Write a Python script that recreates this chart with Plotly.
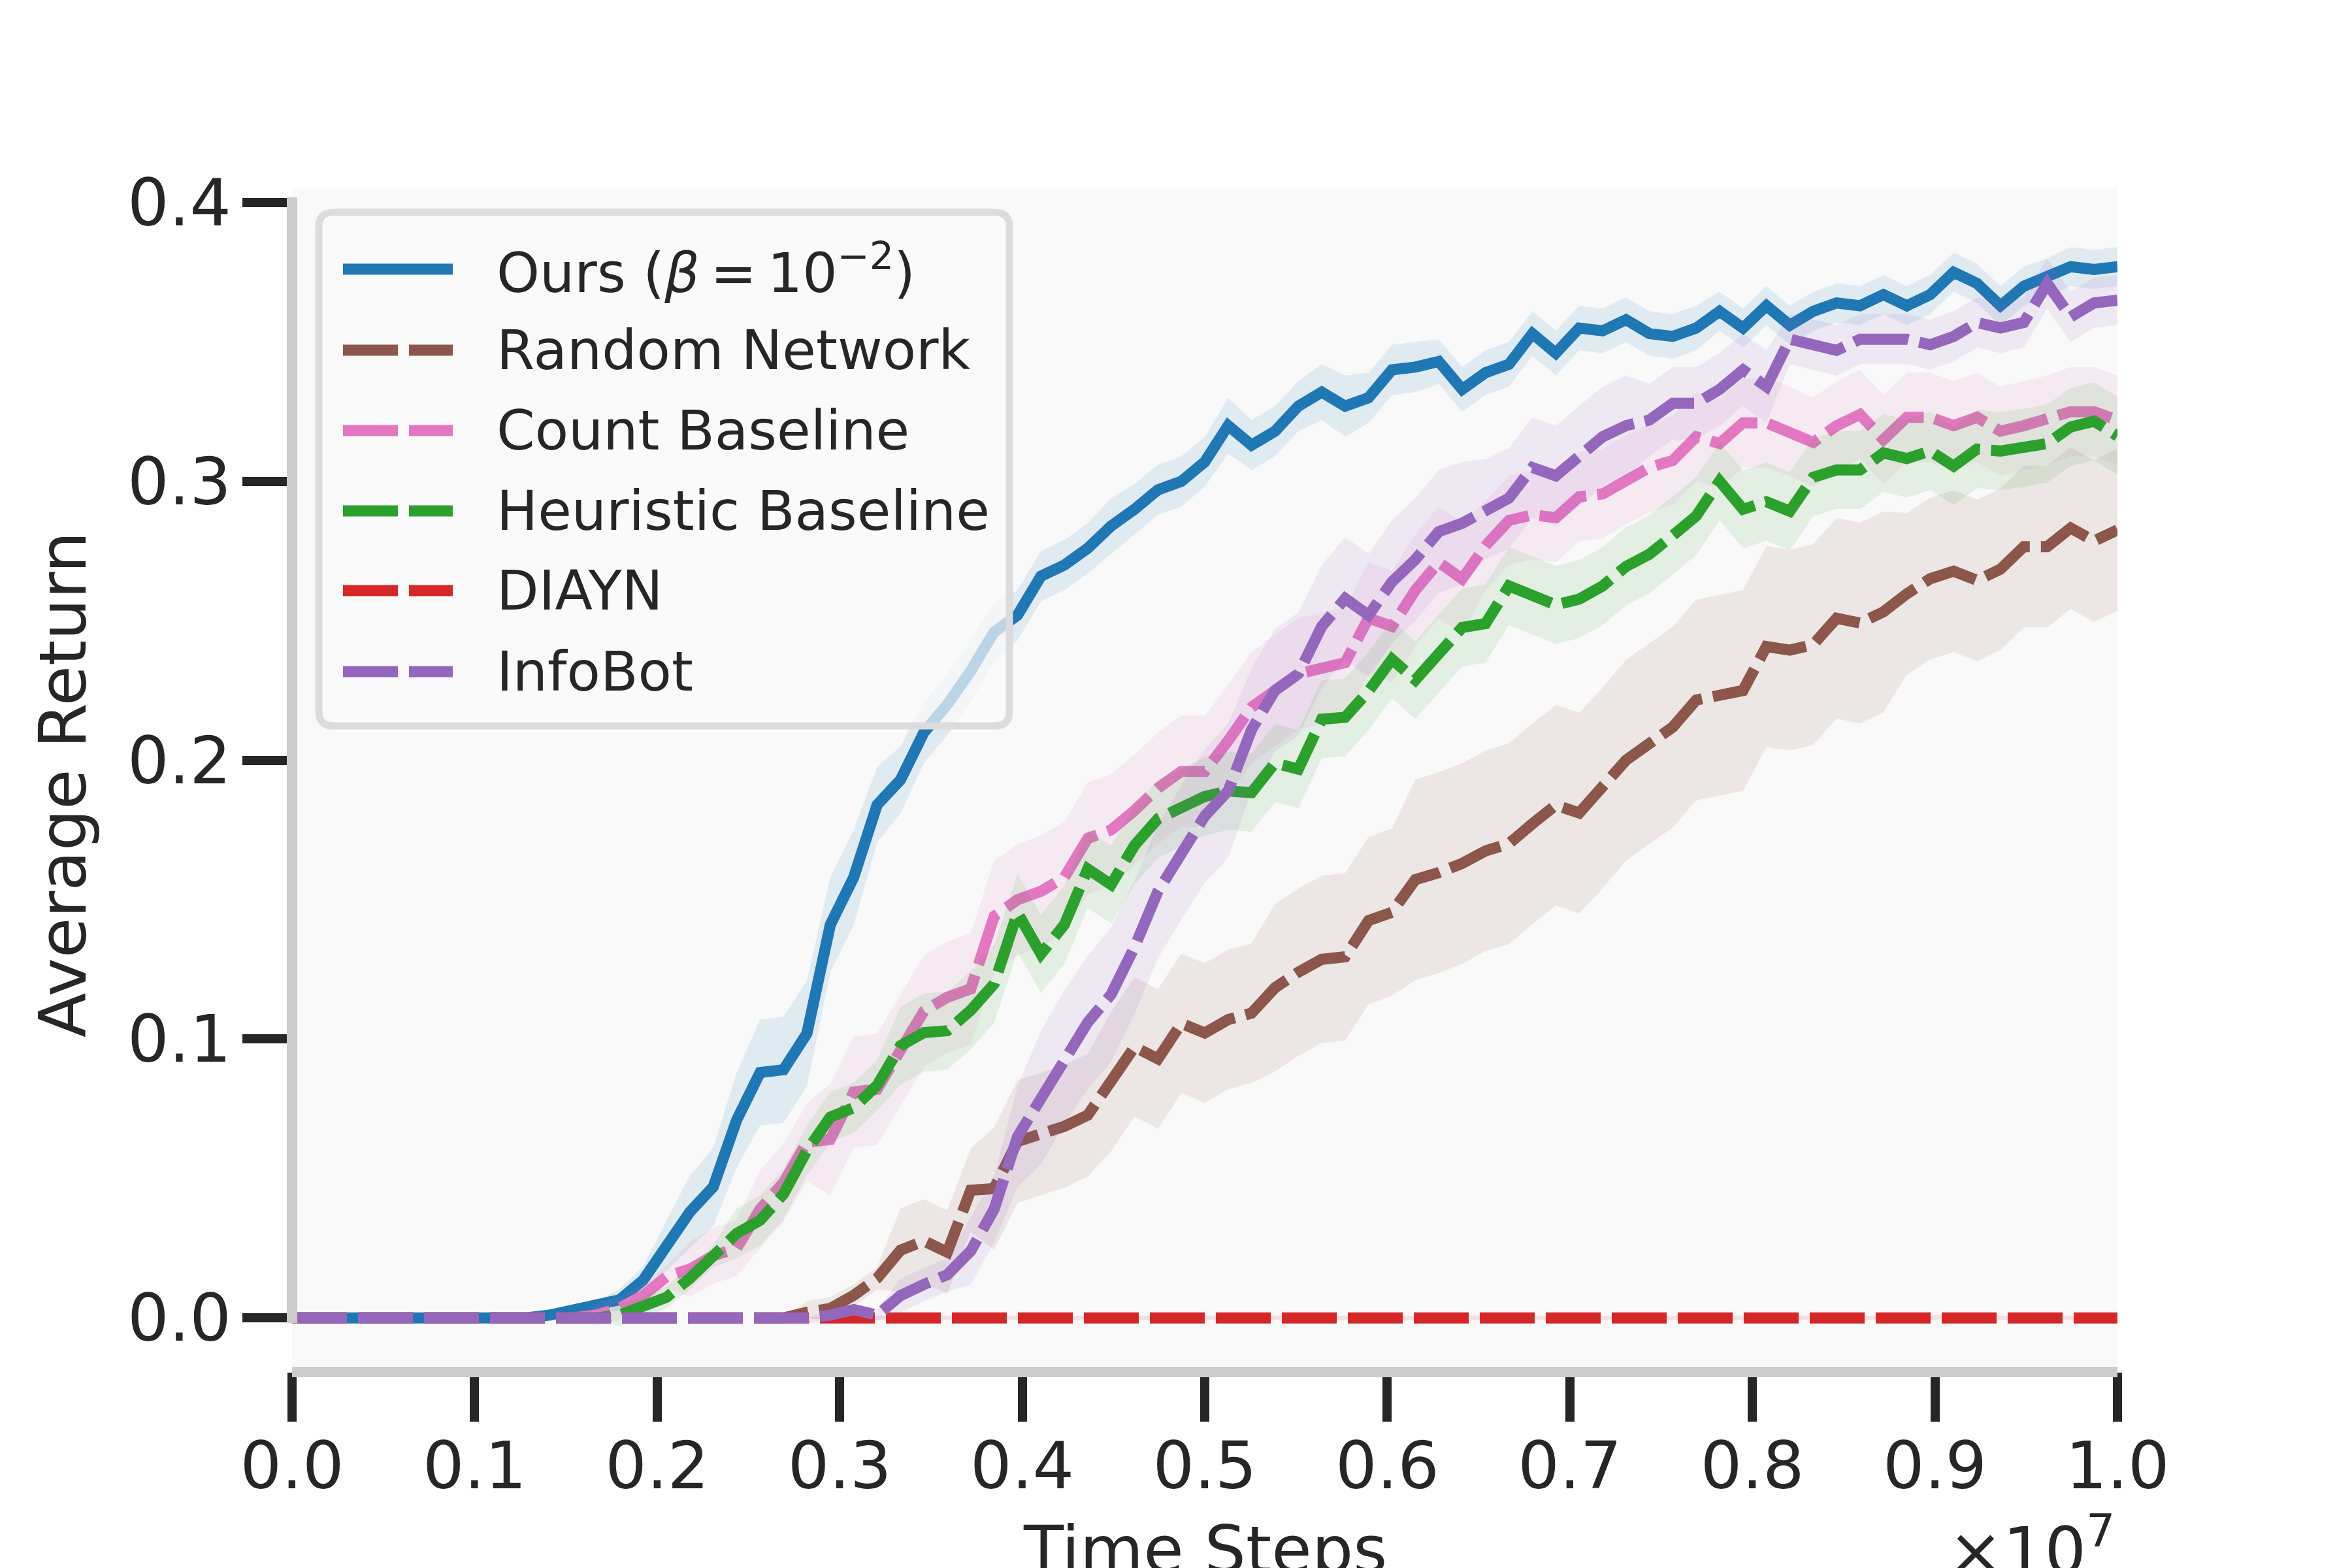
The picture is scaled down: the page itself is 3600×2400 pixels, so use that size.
import numpy as np
import plotly.graph_objects as go

# ---------------- data ----------------
time_steps = np.linspace(0, 1.0e7, 79)

series_names = ["Ours (<i>β</i>\u2009=\u200910<sup>−2</sup>)", "Random Network", "Count Baseline",
                "Heuristic Baseline", "DIAYN", "InfoBot"]
series_colors = ["#1f77b4", "#8c564b", "#e377c2", "#2ca02c", "#d62728", "#9467bd"]
series_dashes = ["solid", "84px,17px", "84px,17px", "84px,17px", "84px,17px", "84px,17px"]

ours_mean = [0, 0, 0, 0, 0, 0, 0, 0, 0, 0, 0,
             0.001, 0.0025, 0.004, 0.0065, 0.0135, 0.026, 0.038, 0.047, 0.071, 0.088,
             0.089, 0.102, 0.141, 0.158, 0.184, 0.193, 0.210, 0.220, 0.232, 0.246,
             0.252, 0.266, 0.270, 0.276, 0.284, 0.290, 0.297, 0.300, 0.307, 0.320,
             0.313, 0.318, 0.327, 0.332, 0.327, 0.330, 0.340, 0.341, 0.343, 0.333,
             0.339, 0.342, 0.353, 0.346, 0.355, 0.354, 0.358, 0.353, 0.352, 0.355,
             0.361, 0.355, 0.363, 0.356, 0.361, 0.364, 0.363, 0.367, 0.363, 0.367,
             0.375, 0.371, 0.363, 0.370, 0.373, 0.377, 0.376, 0.377]
ours_err = [0, 0, 0, 0, 0, 0, 0, 0, 0, 0, 0,
            0.002, 0.002, 0.002, 0.004, 0.005, 0.009, 0.013, 0.014, 0.017, 0.019,
            0.019, 0.019, 0.017, 0.017, 0.0135, 0.012, 0.011, 0.011, 0.011, 0.011,
            0.009, 0.009, 0.009, 0.009, 0.010, 0.009, 0.009, 0.009, 0.009, 0.010,
            0.009, 0.009, 0.009, 0.010, 0.011, 0.009, 0.009, 0.009, 0.008, 0.008,
            0.008, 0.008, 0.008, 0.008, 0.008, 0.008, 0.008, 0.008, 0.008, 0.008,
            0.007, 0.007, 0.007, 0.007, 0.007, 0.007, 0.007, 0.007, 0.007, 0.007,
            0.007, 0.007, 0.007, 0.007, 0.007, 0.007, 0.007, 0.007]

random_mean = [0, 0, 0, 0, 0, 0, 0, 0, 0, 0, 0, 0, 0, 0, 0, 0, 0, 0, 0, 0, 0, 0,
               0.002, 0.0034, 0.0081, 0.0142, 0.0243, 0.0276, 0.0236, 0.0458, 0.0464,
               0.0633, 0.066, 0.0687, 0.0727, 0.0848, 0.0972, 0.0929, 0.1056, 0.1022, 0.107,
               0.1093, 0.1184, 0.124, 0.1286, 0.1295, 0.1425, 0.1455, 0.1572, 0.1597, 0.163,
               0.1675, 0.1701, 0.1772, 0.1839, 0.1811, 0.19, 0.2, 0.206, 0.2119, 0.2216,
               0.2233, 0.225, 0.2408, 0.2395, 0.2415, 0.2509, 0.2492, 0.2532, 0.2597, 0.2651,
               0.2678, 0.2645, 0.2685, 0.2766, 0.2766, 0.2833, 0.2786, 0.2826]
random_err = [0, 0, 0, 0, 0, 0, 0, 0, 0, 0, 0, 0, 0, 0, 0, 0, 0, 0, 0, 0, 0, 0,
              0.004, 0.004, 0.004, 0.004, 0.015, 0.015, 0.015, 0.015, 0.022,
              0.022, 0.022, 0.022, 0.022, 0.025, 0.025, 0.025, 0.025, 0.025, 0.025,
              0.025, 0.030, 0.030, 0.030, 0.030, 0.030, 0.030, 0.036, 0.036, 0.036,
              0.036, 0.036, 0.036, 0.036, 0.036, 0.036, 0.036, 0.036, 0.036, 0.036,
              0.036, 0.036, 0.036, 0.036, 0.036, 0.036, 0.036, 0.036, 0.029, 0.029,
              0.029, 0.029, 0.029, 0.029, 0.029, 0.029, 0.029, 0.029]

count_mean = [0, 0, 0, 0, 0, 0, 0, 0, 0, 0, 0, 0, 0,
              0.001, 0.0035, 0.008, 0.0148, 0.0175, 0.0223, 0.025, 0.039,
              0.0485, 0.063, 0.064, 0.081, 0.082, 0.096, 0.11, 0.115, 0.118, 0.144,
              0.15, 0.153, 0.158, 0.172, 0.175, 0.182, 0.19, 0.196, 0.196, 0.207,
              0.219, 0.225, 0.231, 0.233, 0.235, 0.251, 0.248, 0.261, 0.271, 0.265,
              0.277, 0.286, 0.288, 0.287, 0.2945, 0.2955, 0.3005, 0.305, 0.3075, 0.316,
              0.3136, 0.321, 0.321, 0.318, 0.314, 0.32, 0.324, 0.315, 0.323, 0.323,
              0.32, 0.323, 0.318, 0.32, 0.322, 0.325, 0.325, 0.322]
count_err = [0, 0, 0, 0, 0, 0, 0, 0, 0, 0, 0, 0, 0,
             0.004, 0.004, 0.004, 0.004, 0.010, 0.010, 0.010, 0.014,
             0.014, 0.014, 0.020, 0.020, 0.020, 0.020, 0.020, 0.020, 0.020, 0.020,
             0.020, 0.020, 0.020, 0.020, 0.020, 0.020, 0.020, 0.020, 0.020, 0.020,
             0.020, 0.020, 0.020, 0.020, 0.020, 0.020, 0.020, 0.020, 0.020, 0.020,
             0.016, 0.016, 0.016, 0.016, 0.016, 0.016, 0.016, 0.016, 0.016, 0.016,
             0.016, 0.016, 0.016, 0.016, 0.016, 0.016, 0.016, 0.016, 0.016, 0.016,
             0.016, 0.016, 0.016, 0.016, 0.016, 0.016, 0.016, 0.016]

heuristic_mean = [0, 0, 0, 0, 0, 0, 0, 0, 0, 0, 0, 0, 0, 0,
                  0.001, 0.0038, 0.0074, 0.0142, 0.0222, 0.0303, 0.035,
                  0.0444, 0.06, 0.072, 0.0754, 0.0834, 0.0976, 0.1023, 0.103, 0.1103, 0.1198,
                  0.1453, 0.1305, 0.141, 0.161, 0.1554, 0.1695, 0.179, 0.183, 0.187, 0.189,
                  0.1884, 0.199, 0.1968, 0.2147, 0.2154, 0.2248, 0.2362, 0.2288, 0.2382, 0.2476,
                  0.249, 0.2625, 0.2591, 0.2557, 0.2578, 0.2625, 0.2695, 0.2739, 0.2806, 0.2876,
                  0.3001, 0.29, 0.2927, 0.2893, 0.3015, 0.3041, 0.3041, 0.3102, 0.3082, 0.3109,
                  0.3055, 0.3116, 0.3109, 0.312, 0.3136, 0.3195, 0.3216, 0.3163]
heuristic_err = [0, 0, 0, 0, 0, 0, 0, 0, 0, 0, 0, 0, 0, 0,
                 0.004, 0.004, 0.004, 0.004, 0.004, 0.009, 0.009,
                 0.009, 0.009, 0.009, 0.009, 0.009, 0.014, 0.014, 0.014, 0.014, 0.014,
                 0.014, 0.014, 0.014, 0.014, 0.014, 0.014, 0.014, 0.014, 0.014, 0.014,
                 0.014, 0.014, 0.014, 0.014, 0.014, 0.014, 0.014, 0.014, 0.014, 0.014,
                 0.014, 0.014, 0.014, 0.014, 0.014, 0.014, 0.014, 0.014, 0.014, 0.014,
                 0.014, 0.014, 0.014, 0.014, 0.014, 0.014, 0.014, 0.014, 0.014, 0.014,
                 0.014, 0.014, 0.014, 0.014, 0.014, 0.014, 0.014, 0.014]

diayn_mean = [0, 0, 0, 0, 0, 0, 0, 0, 0, 0, 0, 0, 0, 0, 0, 0, 0, 0, 0, 0,
              0, 0, 0, 0, 0, 0, 0, 0, 0, 0, 0, 0, 0, 0, 0, 0, 0, 0, 0.0008, 0,
              0, 0, 0, 0, 0, 0, 0, 0, 0, 0, 0, 0, 0, 0, 0, 0, 0, 0, 0, 0,
              0.0006, 0, 0, 0, 0, 0, 0, 0, 0, 0, 0, 0.0008, 0, 0, 0, 0, 0, 0, 0]
diayn_err = [0, 0, 0, 0, 0, 0, 0, 0, 0, 0, 0, 0, 0, 0, 0, 0, 0, 0, 0, 0,
             0, 0, 0, 0.0008, 0.0008, 0.0008, 0.0008, 0.0008, 0.0008, 0.0008,
             0.0008, 0.0008, 0.0008, 0.0008, 0.0008, 0.0008, 0.0008, 0.0008, 0.0008, 0.0008,
             0.0008, 0.0008, 0.0008, 0.0008, 0.0008, 0.0008, 0.0008, 0.0008, 0.0008, 0.0008,
             0.0008, 0.0008, 0.0008, 0.0008, 0.0008, 0.0008, 0.0008, 0.0008, 0.0008, 0.0008,
             0.0008, 0.0008, 0.0008, 0.0008, 0.0008, 0.0008, 0.0008, 0.0008, 0.0008, 0.0008,
             0.0008, 0.0008, 0.0008, 0.0008, 0.0008, 0.0008, 0.0008, 0.0008, 0.0008]

infobot_mean = [0, 0, 0, 0, 0, 0, 0, 0, 0, 0, 0, 0, 0, 0, 0, 0, 0, 0, 0, 0, 0, 0, 0,
                0.001, 0.003, 0.001, 0.008, 0.012, 0.0155, 0.024, 0.039,
                0.065, 0.079, 0.0935, 0.106, 0.116, 0.133, 0.153, 0.167, 0.18, 0.189,
                0.211, 0.225, 0.231, 0.248, 0.258, 0.252, 0.264, 0.272, 0.282, 0.285,
                0.29, 0.294, 0.305, 0.302, 0.309, 0.316, 0.32, 0.322, 0.328, 0.328,
                0.333, 0.34, 0.334, 0.351, 0.349, 0.347, 0.351, 0.351, 0.351, 0.349,
                0.352, 0.357, 0.355, 0.357, 0.371, 0.359, 0.364, 0.365]
infobot_err = [0, 0, 0, 0, 0, 0, 0, 0, 0, 0, 0, 0, 0, 0, 0, 0, 0, 0, 0, 0, 0, 0, 0,
               0.002, 0.002, 0.002, 0.006, 0.006, 0.006, 0.012, 0.012,
               0.018, 0.024, 0.024, 0.024, 0.024, 0.024, 0.024, 0.024, 0.024, 0.024,
               0.022, 0.022, 0.022, 0.022, 0.022, 0.022, 0.022, 0.022, 0.022, 0.022,
               0.018, 0.018, 0.018, 0.018, 0.018, 0.018, 0.018, 0.013, 0.013, 0.013,
               0.013, 0.013, 0.013, 0.009, 0.009, 0.009, 0.009, 0.009, 0.009, 0.009,
               0.009, 0.009, 0.009, 0.009, 0.009, 0.009, 0.009, 0.009]

y_tick_vals = [0.0, 0.1, 0.2, 0.3, 0.4]
y_tick_text = ["0.0", "0.1", "0.2", "0.3", "0.4"]
x_tick_vals = [0, 1e6, 2e6, 3e6, 4e6, 5e6, 6e6, 7e6, 8e6, 9e6, 1e7]
x_tick_text = ["0.0", "0.1", "0.2", "0.3", "0.4", "0.5", "0.6", "0.7", "0.8", "0.9", "1.0"]

all_means = [ours_mean, random_mean, count_mean, heuristic_mean, diayn_mean, infobot_mean]
all_errs = [ours_err, random_err, count_err, heuristic_err, diayn_err, infobot_err]

# ---------------- layout geometry ----------------
W, H = 3600, 2400
PL, PR, PT, PB = 447, 3241, 287, 2100
FONT = "DejaVu Sans"
TXT = "#262626"
SPINE = "#cccccc"


def pxx(p):
    return (p - PL) / (PR - PL)


def pxy(p):
    return (PB - p) / (PB - PT)


def rgba(hexc, a):
    h = hexc.lstrip("#")
    return "rgba(%d,%d,%d,%.3f)" % (int(h[0:2], 16), int(h[2:4], 16), int(h[4:6], 16), a)


fig = go.Figure()
xs = list(time_steps)
for name, col, dash, m, e in zip(series_names, series_colors, series_dashes, all_means, all_errs):
    m = np.array(m, dtype=float)
    e = np.array(e, dtype=float)
    upper = m + e
    lower = m - e
    fig.add_trace(go.Scatter(
        x=xs + xs[::-1], y=list(upper) + list(lower[::-1]),
        mode="lines", fill="toself", fillcolor=rgba(col, 0.11),
        line=dict(width=0, color=rgba(col, 0)), hoverinfo="skip", showlegend=False))
    fig.add_trace(go.Scatter(
        x=xs, y=list(m), mode="lines", name=name,
        line=dict(color=col, width=17, dash=dash), showlegend=False))

shapes = []
# spines (light gray, trimmed to tick range)
shapes.append(dict(type="line", xref="paper", yref="y", x0=0, x1=0, y0=-0.0019, y1=0.4019,
                   line=dict(color=SPINE, width=16), layer="above"))
shapes.append(dict(type="line", xref="x", yref="paper", x0=-0.0029e7, x1=1.0029e7, y0=0, y1=0,
                   line=dict(color=SPINE, width=16), layer="above"))

# legend box with rounded corners (paper coords: top > bottom)
lx0, lx1 = pxx(488), pxx(1545)
ltop, lbot = pxy(325), pxy(1111)
rx, ry = 22 / (PR - PL), 22 / (PB - PT)
path = ("M {xa},{yb} L {xc},{yb} Q {x1},{yb} {x1},{yd} L {x1},{ye} Q {x1},{yt} {xc},{yt} "
        "L {xa},{yt} Q {x0},{yt} {x0},{ye} L {x0},{yd} Q {x0},{yb} {xa},{yb} Z").format(
    xa=lx0 + rx, xc=lx1 - rx, x0=lx0, x1=lx1,
    yb=lbot, yd=lbot + ry, ye=ltop - ry, yt=ltop)
shapes.append(dict(type="path", xref="paper", yref="paper", path=path,
                   fillcolor="rgba(249,249,249,0.72)", line=dict(color="#dcdcdc", width=11),
                   layer="above"))

annotations = []
leg_y = [412, 536, 659, 782, 904, 1028]
for name, col, dash, yy in zip(series_names, series_colors, series_dashes, leg_y):
    shapes.append(dict(type="line", xref="paper", yref="paper", x0=pxx(525), x1=pxx(693),
                       y0=pxy(yy), y1=pxy(yy), line=dict(color=col, width=17, dash=dash),
                       layer="above"))
    annotations.append(dict(text=name, xref="paper", yref="paper", x=pxx(758), y=pxy(yy),
                            xanchor="left", yanchor="middle", showarrow=False,
                            font=dict(family=FONT, size=84, color=TXT)))

annotations.append(dict(text="Average Return", xref="paper", yref="paper",
                        x=pxx(96), y=pxy(1201), textangle=-90, xanchor="center",
                        yanchor="middle", showarrow=False,
                        font=dict(family=FONT, size=100, color=TXT)))
annotations.append(dict(text="Time Steps", xref="paper", yref="paper",
                        x=0.5, y=pxy(2312), xanchor="center", yanchor="top",
                        showarrow=False, font=dict(family=FONT, size=100, color=TXT)))
annotations.append(dict(text="×10<sup>7</sup>", xref="paper", yref="paper",
                        x=pxx(3240), y=pxy(2300), xanchor="right", yanchor="top",
                        showarrow=False, font=dict(family=FONT, size=100, color=TXT)))

fig.update_layout(
    width=W, height=H,
    margin=dict(l=PL, r=W - PR, t=PT, b=H - PB, pad=0),
    paper_bgcolor="white", plot_bgcolor="#f9f9f9",
    font=dict(family=FONT, color=TXT),
    shapes=shapes, annotations=annotations, showlegend=False,
    xaxis=dict(range=[0, 1e7], showgrid=False, zeroline=False, showline=False,
               ticks="outside", ticklen=75, tickwidth=14, tickcolor=TXT,
               tickvals=x_tick_vals, ticktext=x_tick_text, ticklabelstandoff=-18,
               tickfont=dict(family=FONT, size=100, color=TXT)),
    yaxis=dict(range=[-0.0194, 0.4054], showgrid=False, zeroline=False, showline=False,
               ticks="outside", ticklen=75, tickwidth=14, tickcolor=TXT,
               tickvals=y_tick_vals, ticktext=y_tick_text, ticklabelstandoff=-3,
               tickfont=dict(family=FONT, size=100, color=TXT)),
)

fig.write_html("out.html")
